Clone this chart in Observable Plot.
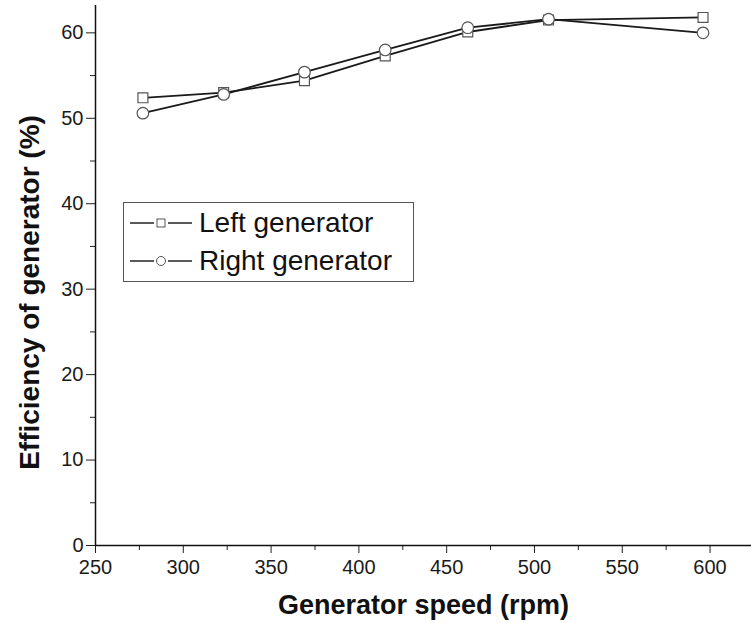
<!DOCTYPE html>
<html>
<head>
<meta charset="utf-8">
<script src="https://cdn.jsdelivr.net/npm/d3@7"></script>
<script src="https://cdn.jsdelivr.net/npm/@observablehq/plot@0.6"></script>
<style>
  html, body { margin: 0; padding: 0; background: #fff; }
  #wrap { position: relative; width: 751px; height: 623px; font-family: "Liberation Sans", Arial, sans-serif; }
  #legend {
    position: absolute; left: 123px; top: 202px; width: 291px; height: 80px;
    border: 1px solid #555; background: #fff; box-sizing: border-box;
    font-size: 28px; color: #111; padding-top: 1px;
  }
  .row { display: flex; align-items: center; height: 38px; padding-left: 4px; }
  .row svg { margin-right: 5px; }
  g[aria-label="x-axis tick label"], g[aria-label="y-axis tick label"] { font-size: 20px; }
</style>
</head>
<body>
<div id="wrap"></div>
<script>
// Generator speed (rpm) and measured efficiency (%) of each generator
const speed = [277, 323, 369, 415, 462, 508, 596];
const leftEff = [52.4, 53.0, 54.4, 57.3, 60.1, 61.5, 61.8];
const rightEff = [50.6, 52.8, 55.4, 58.0, 60.6, 61.6, 60.0];

const xMajor = [250, 300, 350, 400, 450, 500, 550, 600];
const xMinor = [275, 325, 375, 425, 475, 525, 575];
const yMajor = [0, 10, 20, 30, 40, 50, 60];
const yMinor = [5, 15, 25, 35, 45, 55];

const leftRows = speed.map((s, i) => ({speed: s, eff: leftEff[i]}));
const rightRows = speed.map((s, i) => ({speed: s, eff: rightEff[i]}));

const font = "Liberation Sans, Arial, sans-serif";

const chart = Plot.plot({
  width: 751,
  height: 623,
  marginLeft: 95,
  marginRight: 0,
  marginTop: 5,
  marginBottom: 78,
  style: {fontFamily: font, fontSize: "20px", background: "#fff"},
  x: {domain: [250, 623.6]},
  y: {domain: [0, 63.2]},
  marks: [
    Plot.axisX({ticks: xMinor, tickSize: 5, text: null, label: null, stroke: "#222", strokeOpacity: 1}),
    Plot.axisX({ticks: xMajor, tickSize: 8, tickPadding: 6, label: null, fontSize: 20, fill: "#1a1a1a", stroke: "#222", strokeOpacity: 1}),
    Plot.axisY({ticks: yMinor, tickSize: 5, text: null, label: null, stroke: "#222", strokeOpacity: 1}),
    Plot.axisY({ticks: yMajor, tickSize: 9, tickPadding: 3, label: null, fontSize: 20, fill: "#1a1a1a", stroke: "#222", strokeOpacity: 1}),
    Plot.ruleY([0], {stroke: "#111", strokeWidth: 1.5}),
    Plot.ruleX([250], {stroke: "#111", strokeWidth: 1.5}),
    Plot.text(["Generator speed (rpm)"], {frameAnchor: "bottom", dy: 60, fontSize: 27, fontWeight: "bold", fill: "#111", lineAnchor: "middle", textAnchor: "middle"}),
    Plot.text(["Efficiency of generator (%)"], {frameAnchor: "left", dx: -65, dy: 17, rotate: -90, fontSize: 28, fontWeight: "bold", fill: "#111", lineAnchor: "middle", textAnchor: "middle"}),
    Plot.line(leftRows, {x: "speed", y: "eff", stroke: "#1a1a1a", strokeWidth: 1.8}),
    Plot.line(rightRows, {x: "speed", y: "eff", stroke: "#1a1a1a", strokeWidth: 1.8}),
    Plot.dot(leftRows, {x: "speed", y: "eff", symbol: "square", r: 5.6, fill: "#fff", stroke: "#555", strokeWidth: 1.2}),
    Plot.dot(rightRows, {x: "speed", y: "eff", symbol: "circle", r: 5.8, fill: "#fff", stroke: "#555", strokeWidth: 1.2})
  ]
});

const wrap = document.getElementById("wrap");
wrap.appendChild(chart);

// Legend box overlaid on the plotting area
const legend = document.createElement("div");
legend.id = "legend";
const symbolSvg = (shape) => {
  const mark = shape === "square"
    ? '<rect x="29" y="7" width="8" height="8" fill="#fff" stroke="#555" stroke-width="1"/>'
    : '<circle cx="33" cy="11" r="4.5" fill="#fff" stroke="#555" stroke-width="1"/>';
  return `<svg width="66" height="22" viewBox="0 0 66 22">
    <line x1="2" y1="11" x2="26" y2="11" stroke="#222" stroke-width="1.5"/>
    <line x1="40" y1="11" x2="64" y2="11" stroke="#222" stroke-width="1.5"/>${mark}</svg>`;
};
legend.innerHTML =
  `<div class="row">${symbolSvg("square")}<span>Left generator</span></div>` +
  `<div class="row">${symbolSvg("circle")}<span>Right generator</span></div>`;
wrap.appendChild(legend);
</script>
</body>
</html>
